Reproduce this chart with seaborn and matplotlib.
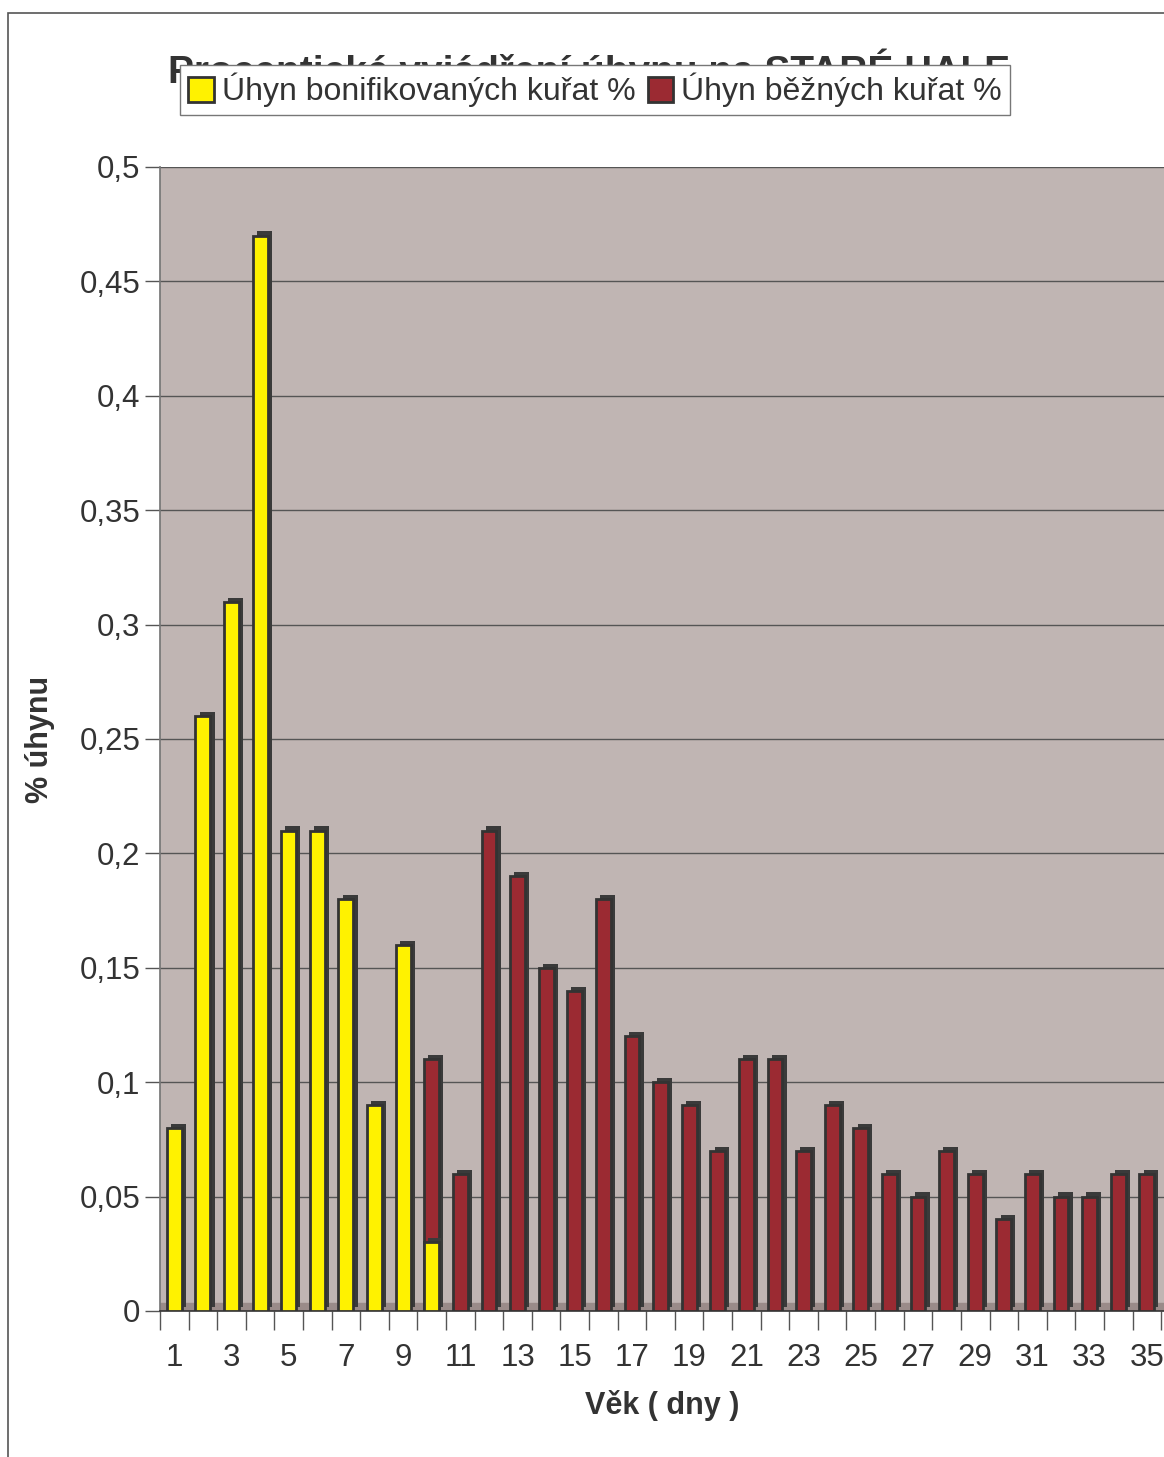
import numpy as np
import pandas as pd
import seaborn as sns
from matplotlib import pyplot as plt
from matplotlib import patheffects
from matplotlib.patches import Rectangle
from matplotlib.ticker import FixedLocator, FuncFormatter

DAYS = list(range(1, 36))
BONUS_DAYS = list(range(1, 11))
BONUS_VALUES = [0.08, 0.26, 0.31, 0.47, 0.21, 0.21, 0.18, 0.09, 0.16, 0.03]
NORMAL_DAYS = list(range(10, 36))
NORMAL_VALUES = [0.08, 0.06, 0.21, 0.19, 0.15, 0.14, 0.18, 0.12, 0.10, 0.09,
                 0.07, 0.11, 0.11, 0.07, 0.09, 0.08, 0.06, 0.05, 0.07, 0.06,
                 0.04, 0.06, 0.05, 0.05, 0.06, 0.06]
Y_TICKS = [0, 0.05, 0.1, 0.15, 0.2, 0.25, 0.3, 0.35, 0.4, 0.45, 0.5]

LABEL_BONUS = "Úhyn bonifikovaných kuřat %"
LABEL_NORMAL = "Úhyn běžných kuřat %"
TITLE = "Procentické vyjádření úhynu na STARÉ HALE"

YELLOW = "#FFF200"
RED = "#9B2A32"
EDGE = "#333333"
WALL = "#C0B5B3"
FLOOR = "#9A8B89"

sns.set_theme(style="white")
plt.rcParams["font.family"] = ["Liberation Sans", "DejaVu Sans"]

bonus = pd.DataFrame({"day": BONUS_DAYS, "value": BONUS_VALUES})
normal = pd.DataFrame({"day": NORMAL_DAYS, "value": NORMAL_VALUES})
# stacked: red drawn as cumulative total behind the yellow part
normal["total"] = normal["value"] + normal["day"].map(dict(zip(BONUS_DAYS, BONUS_VALUES))).fillna(0)

fig = plt.figure(figsize=(11.64, 14.57), dpi=100)
fig.patches.append(Rectangle((8 / 1164, -0.01), 1.2, 1 - 13 / 1457 + 0.01, transform=fig.transFigure,
                             fill=False, edgecolor="#555555", linewidth=1.2))
ax = fig.add_axes([160 / 1164, 1 - 1311 / 1457, 1 - 160 / 1164, (1311 - 167) / 1457])
ax.set_facecolor(WALL)

shadow = [patheffects.SimplePatchShadow(offset=(3, 3), shadow_rgbFace="#3a3a3a", alpha=1.0),
          patheffects.Normal()]

order = [str(d) for d in DAYS]
sns.barplot(x=normal["day"].astype(str), y=normal["total"], order=order, color=RED,
            edgecolor=EDGE, linewidth=2, width=0.52, saturation=1, ax=ax, zorder=3)
sns.barplot(x=bonus["day"].astype(str), y=bonus["value"], order=order, color=YELLOW,
            edgecolor=EDGE, linewidth=2, width=0.52, saturation=1, ax=ax, zorder=3)
for p in ax.patches:
    p.set_path_effects(shadow)

ax.axhspan(0, 0.0035, color=FLOOR, zorder=1)
ax.set_xlim(-0.5, 34.6)
ax.set_ylim(0, 0.5)

ax.yaxis.set_major_locator(FixedLocator(Y_TICKS))
ax.yaxis.set_major_formatter(FuncFormatter(lambda v, _: ("%g" % v).replace(".", ",")))
ax.grid(axis="y", color="#555555", linewidth=1, zorder=0)
ax.set_axisbelow(True)

ax.set_xticks(np.arange(0, 35, 2))
ax.set_xticklabels([str(d) for d in DAYS[::2]])
ax.set_xticks(np.arange(-0.5, 35, 1), minor=True)
ax.tick_params(axis="x", which="major", length=0, pad=23, labelsize=22.5, colors="#333333")
ax.tick_params(axis="x", which="minor", length=14, width=1, color="#555555", bottom=True)
ax.tick_params(axis="y", length=11, width=1, color="#555555", left=True, labelsize=22.5,
               labelcolor="#333333", pad=3)

for side in ["top", "right"]:
    ax.spines[side].set_visible(False)
ax.spines["left"].set_color("#777777")
ax.spines["bottom"].set_color("#333333")
ax.spines["bottom"].set_linewidth(1.2)

ax.set_xlabel("Věk ( dny )", fontsize=22, fontweight="bold", color="#333333", labelpad=12)
ax.set_ylabel("% úhynu", fontsize=22, fontweight="bold", color="#333333", labelpad=18)

fig.text(589 / 1164, 1 - 70 / 1457, TITLE, ha="center", va="center", fontsize=28,
         fontweight="bold", color="#333333", zorder=2)

handles = [Rectangle((0, 0), 1, 1, facecolor=YELLOW, edgecolor=EDGE, linewidth=2),
           Rectangle((0, 0), 1, 1, facecolor=RED, edgecolor=EDGE, linewidth=2)]
leg = fig.legend(handles, [LABEL_BONUS, LABEL_NORMAL], loc="upper left",
                 bbox_to_anchor=(180 / 1164, 1 - 65 / 1457), ncol=2, fontsize=23,
                 frameon=True, fancybox=False, framealpha=1, edgecolor="#777777",
                 handlelength=0.8, handleheight=0.8, handletextpad=0.25, columnspacing=0.4,
                 borderpad=0.25, borderaxespad=0)
leg.set_zorder(10)
for t in leg.get_texts():
    t.set_color("#333333")

fig.savefig("out.png", dpi=100)
